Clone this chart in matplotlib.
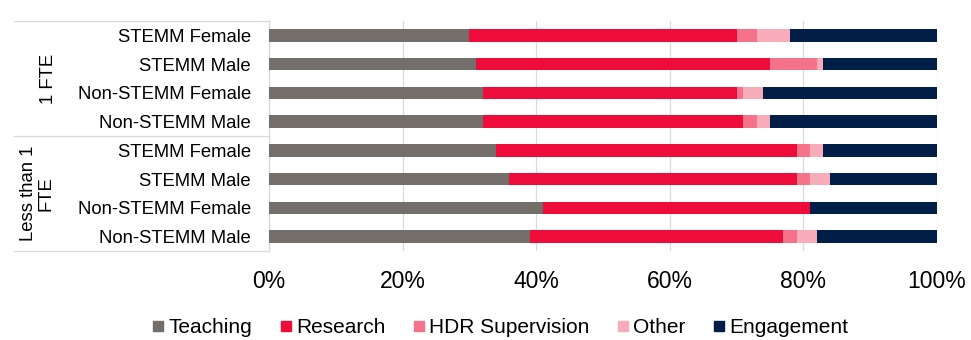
import matplotlib
matplotlib.use("Agg")
import matplotlib.pyplot as plt
from matplotlib.lines import Line2D
from matplotlib.ticker import PercentFormatter
import numpy as np

plt.rcParams['font.family'] = ['Liberation Sans', 'DejaVu Sans']

# Workload allocation (% of time) by employment fraction and discipline/gender
groups = ["1 FTE", "Less than 1\nFTE"]
categories = [
    "STEMM Female", "STEMM Male", "Non-STEMM Female", "Non-STEMM Male",
    "STEMM Female", "STEMM Male", "Non-STEMM Female", "Non-STEMM Male",
]
series_names = ["Teaching", "Research", "HDR Supervision", "Other", "Engagement"]
teaching   = [30, 31, 32, 32, 34, 36, 41, 39]
research   = [40, 44, 38, 39, 45, 43, 40, 38]
hdr        = [3, 7, 1, 2, 2, 2, 0, 2]
other      = [5, 1, 3, 2, 2, 3, 0, 3]
engagement = [22, 17, 26, 25, 17, 16, 19, 18]
x_ticks = [0, 20, 40, 60, 80, 100]

colors = ["#736e6a", "#ee0c3b", "#f4738a", "#f8abb9", "#001e46"]
grid_col = "#d9d9d9"

W, H = 971, 340
fig = plt.figure(figsize=(W / 100, H / 100), dpi=100)
ax = fig.add_axes([269 / W, 1 - 251 / H, (937 - 269) / W, (251 - 21) / H])

y = np.arange(len(categories))
left = np.zeros(len(categories))
for name, vals, col in zip(series_names,
                           [teaching, research, hdr, other, engagement], colors):
    vals = np.asarray(vals, dtype=float)
    ax.barh(y, vals, left=left, height=0.44, color=col, label=name,
            linewidth=0, zorder=3)
    left += vals

ax.set_xlim(0, 100)
ax.set_ylim(len(categories) - 0.5, -0.5)
ax.set_xticks(x_ticks)
ax.xaxis.set_major_formatter(PercentFormatter(decimals=0))
ax.set_yticks(y)
ax.set_yticklabels(categories)
ax.tick_params(axis='x', length=0, pad=13.5, labelsize=16.5, colors='#000000')
ax.tick_params(axis='y', length=0, pad=13, labelsize=13.3, colors='#000000')
ax.grid(axis='x', color=grid_col, linewidth=0.9, zorder=0)
for s in ["top", "right", "bottom"]:
    ax.spines[s].set_visible(False)
ax.spines["left"].set_color(grid_col)
ax.spines["left"].set_linewidth(0.9)

# Group brackets on the category axis
trans = ax.get_yaxis_transform()
x0 = (14 - 269) / (937 - 269)
for yy in [-0.5, 3.5, len(categories) - 0.5]:
    ax.add_line(Line2D([x0, 0], [yy, yy], transform=trans, color=grid_col,
                       linewidth=0.9, clip_on=False))

x_grp = [(48 - 269) / (937 - 269), (37 - 269) / (937 - 269)]
ax.text(x_grp[0], 1.5, groups[0], transform=trans, rotation=90,
        ha='center', va='center', fontsize=13.3)
ax.text(x_grp[1], 5.5, groups[1], transform=trans, rotation=90,
        ha='center', va='center', fontsize=13.3, multialignment='center',
        linespacing=1.0)

handles = [Line2D([], [], marker='s', linestyle='none', markersize=7.5,
                  markerfacecolor=c, markeredgecolor=c) for c in colors]
fig.legend(handles, series_names, loc='center', ncol=5,
           bbox_to_anchor=(0.5155, 1 - 327.5 / H), frameon=False, fontsize=15,
           handlelength=0.5, handletextpad=0.25, columnspacing=1.35,
           borderpad=0, borderaxespad=0)

fig.savefig("out.png", dpi=100)
